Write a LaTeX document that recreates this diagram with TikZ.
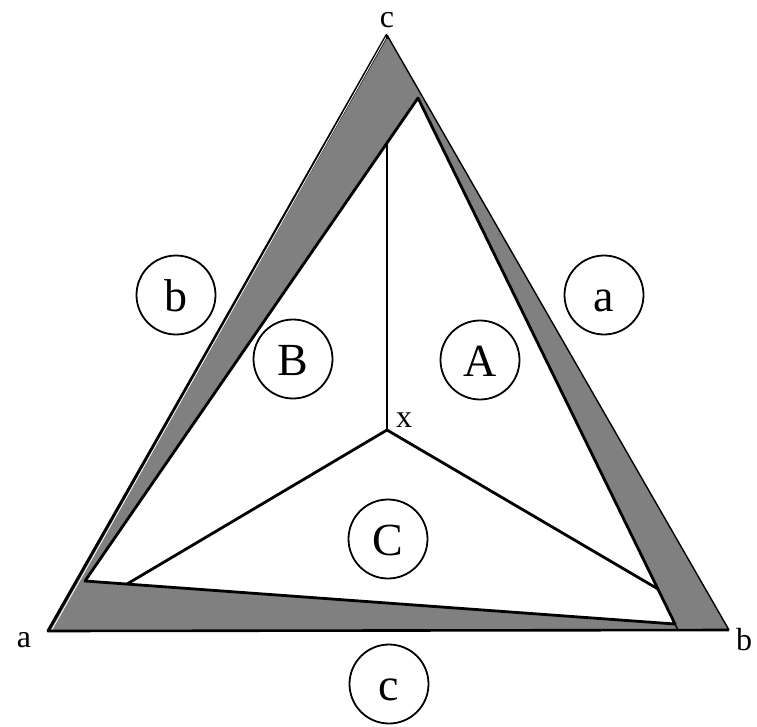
\documentclass[tikz,border=0pt]{standalone}
\usepackage{fontspec}
\setmainfont{Liberation Serif}
\begin{document}
\begin{tikzpicture}[x=1pt,y=-1pt,
  labelc/.style={circle,draw,line width=1.8pt,minimum size=79pt,inner sep=0pt,
    text height=33pt,text depth=0pt,font=\fontsize{46}{46}\selectfont},
  vlabel/.style={anchor=base,inner sep=0pt,font=\fontsize{32}{32}\selectfont},
  edge/.style={line width=2.8pt,line cap=round,line join=round}]
\useasboundingbox (0,0) rectangle (757,726);
% outer triangle
\coordinate (A) at (48,631);
\coordinate (B) at (729,630);
\coordinate (Cv) at (387,35);
% inner triangle
\coordinate (iT) at (418,98);
\coordinate (iL) at (85,581);
\coordinate (iR) at (675,624);
\coordinate (iB) at (678,630);
% centre point and line ends
\coordinate (X) at (387,430);
\coordinate (eT) at (387,142);
\coordinate (eL) at (127,584);
\coordinate (eR) at (658,589);
% gray band
\fill[black!50,even odd rule] (A) -- (B) -- (Cv) -- cycle (iL) -- (iR) -- (iT) -- cycle;
% outer edges
\draw[line width=3pt,line cap=round] (A) -- (Cv);
\draw[white,line width=0.8pt] ([xshift=3.2pt]A) -- ([xshift=3.2pt,yshift=5pt]Cv);
\draw[line width=1.4pt] (Cv) -- (B);
\draw[line width=2.6pt] (A) -- (B);
\draw[line width=2pt] (Cv) -- ([yshift=-4pt]Cv);
% inner triangle
\draw[edge] (iL) -- (iT) -- (iR) -- cycle;
\draw[line width=1.4pt] (iR) -- (iB);
% spokes
\draw[edge] (X) -- (eT);
\draw[edge] (X) -- (eL);
\draw[edge] (X) -- (eR);
% circled labels
\node[labelc] (cb) at (176,295) {b};
\node[labelc] (cB) at (293,359) {B};
\node[labelc] (cA) at (480,360) {A};
\node[labelc] (ca) at (604,295) {a};
\node[labelc] (cC) at (388,539) {C};
\node[labelc] (cc) at (389,684) {c};
% vertex labels
\node[vlabel] (la) at (24,647) {a};
\node[vlabel] (lb) at (744,650) {b};
\node[vlabel] (lc) at (387,27) {c};
\node[vlabel] (lx) at (404,427) {x};
\end{tikzpicture}
\end{document}
